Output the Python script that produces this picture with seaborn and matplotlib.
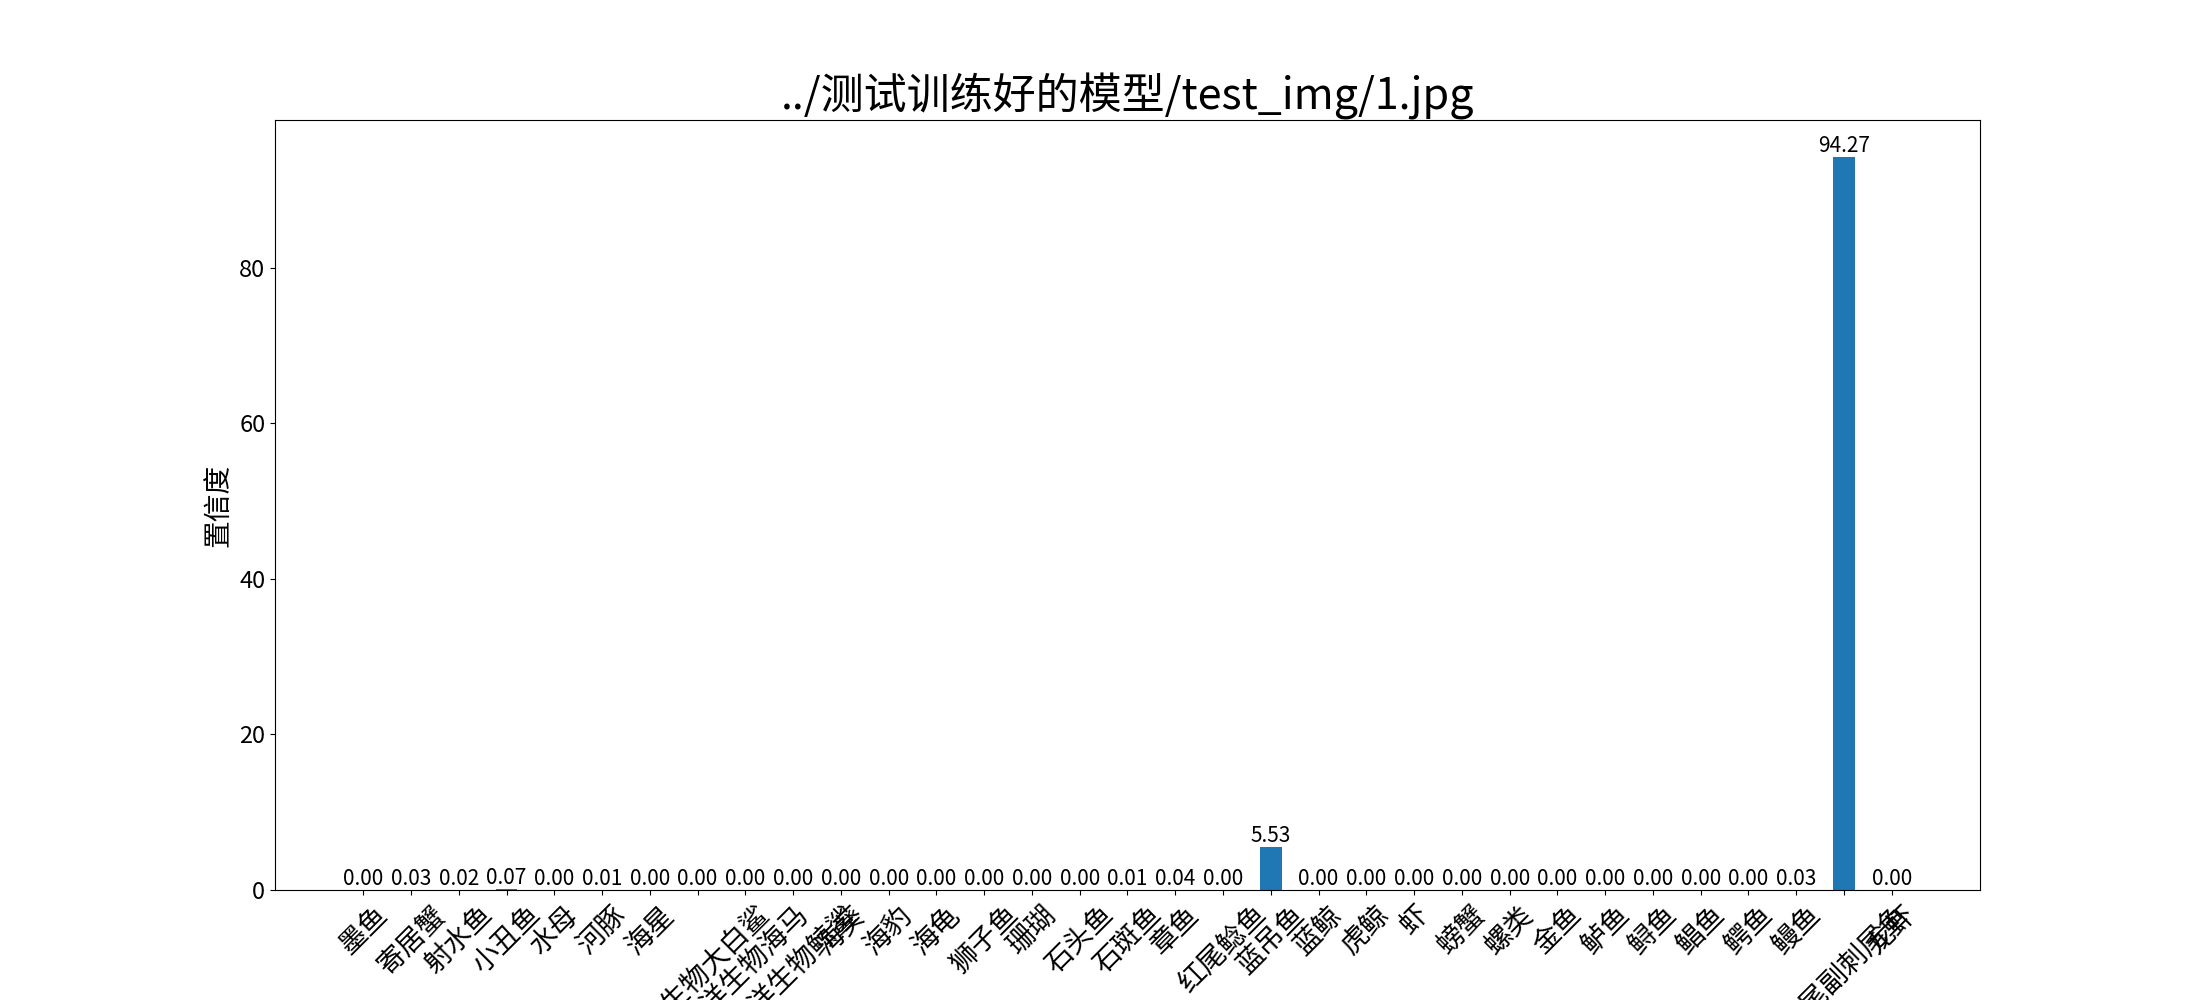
import numpy as np
import seaborn as sns
import matplotlib
matplotlib.use("Agg")
import matplotlib.pyplot as plt

# class names (x axis)
classes = ['墨鱼', '寄居蟹', '射水鱼', '小丑鱼', '水母', '河豚', '海星',
           '海洋生物大白鲨', '海洋生物海马', '海洋生物鲸鲨', '海葵', '海豹', '海龟',
           '狮子鱼', '珊瑚', '石头鱼', '石斑鱼', '章鱼', '红尾鲶鱼', '蓝吊鱼',
           '蓝鲸', '虎鲸', '虾', '螃蟹', '螺类', '金鱼', '鲈鱼', '鲟鱼', '鲳鱼',
           '鳄鱼', '鳗鱼', '黄尾副刺尾鱼', '龙虾']

# confidence in percent
confidence = [0.00, 0.03, 0.02, 0.07, 0.00, 0.01, 0.00,
              0.00, 0.00, 0.00, 0.00, 0.00, 0.00,
              0.00, 0.00, 0.00, 0.01, 0.04, 0.00, 5.53,
              0.00, 0.00, 0.00, 0.00, 0.00, 0.00, 0.00, 0.00, 0.00,
              0.00, 0.03, 94.27, 0.00]

title = '../测试训练好的模型/test_img/1.jpg'

plt.rcParams['font.family'] = ['Noto Sans CJK SC', 'DejaVu Sans']
plt.rcParams['axes.unicode_minus'] = False

bar_width = 0.45
fig, ax = plt.subplots(figsize=(22, 10), dpi=100)
sns.barplot(x=classes, y=confidence, color='#1f77b4', saturation=1,
            width=bar_width, ax=ax)

# put matplotlib's default margins back (seaborn clips them)
n = len(classes)
pad = 0.05 * (n - 1 + bar_width)
ax.set_xlim(-bar_width / 2 - pad, n - 1 + bar_width / 2 + pad)
ax.set_ylim(0, max(confidence) * 1.05)

# value labels on top of each bar
for i, v in enumerate(confidence):
    ax.text(i, v, f'{v:.2f}', ha='center', va='bottom', fontsize=15)

ax.set_title(title, fontsize=31)
ax.set_ylabel('置信度', fontsize=20)
ax.tick_params(axis='y', labelsize=17)
plt.xticks(rotation=45, fontsize=20)

fig.savefig('out.png', dpi=100)
